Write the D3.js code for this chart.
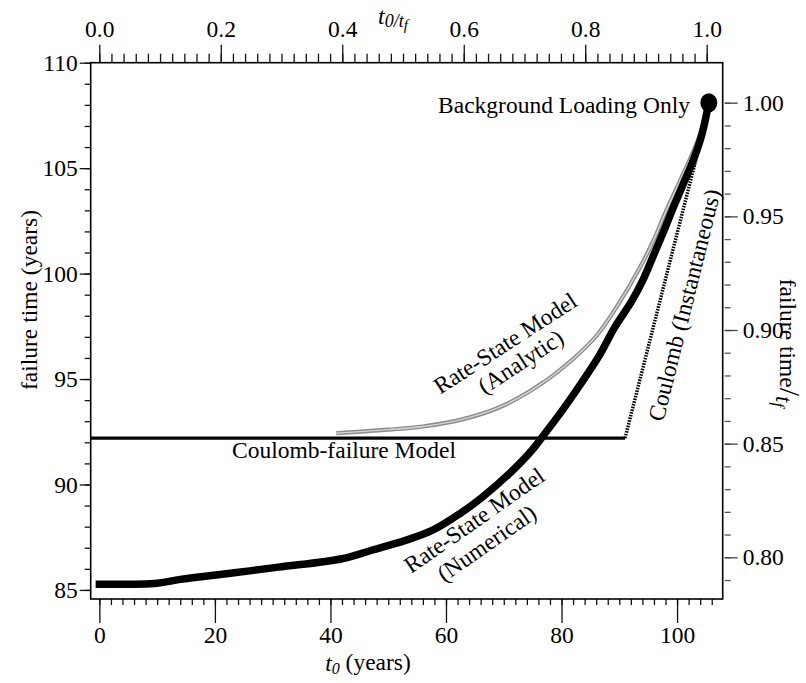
<!DOCTYPE html>
<html>
<head>
<meta charset="utf-8">
<script src="https://cdn.jsdelivr.net/npm/d3@7"></script>
<style>
  body { margin: 0; background: #fff; }
  svg { font-family: "Liberation Serif", "Times New Roman", serif; }
</style>
</head>
<body>
<div id="canvas"></div>
<script>
// values (t0 in years, failure time in years)
const numericalT = [0, 10, 14, 23, 31, 42, 47, 53, 57.6, 62.3, 66.2, 70.9, 74.8, 76.8, 80.1, 83.4, 86.5, 89.2, 92.2, 94.1, 95.9, 97.6, 99.3, 101.0, 102.7, 104.2, 105.5];
const numericalV = [85.27, 85.32, 85.5, 85.8, 86.08, 86.48, 86.87, 87.35, 87.82, 88.6, 89.38, 90.5, 91.6, 92.3, 93.5, 94.8, 96.1, 97.45, 98.72, 99.7, 100.85, 101.95, 103.1, 104.2, 105.3, 106.5, 108.1];

const analyticT = [41, 50, 56, 63, 69.6, 76.1, 82.2, 86.2, 89.5, 93.6, 95.8, 98, 100.5, 103, 105];
const analyticV = [92.43, 92.6, 92.75, 93.1, 93.7, 94.7, 96.0, 97.1, 98.4, 100.3, 101.5, 102.9, 104.4, 105.9, 107.4];

const coulombT = [-1.5, 91];
const coulombV = [92.2, 92.2];

const instantT = [91, 105.3];
const instantV = [92.2, 107.6];

const backgroundT = 105.5;
const backgroundV = 108.1;

const leftTicks = [85, 90, 95, 100, 105, 110];
const bottomTicks = [0, 20, 40, 60, 80, 100];
const topTicks = [0, 0.2, 0.4, 0.6, 0.8, 1.0];
const rightTicks = [0.80, 0.85, 0.90, 0.95, 1.00];

const W = 806, H = 683;
const svg = d3.select("#canvas").append("svg").attr("width", W).attr("height", H);

const pLeft = 90.7, pRight = 722.7, pTop = 62.7, pBottom = 599;

const x = d3.scaleLinear().domain([-1.5, 107.9]).range([pLeft, pRight]);
const y = d3.scaleLinear().domain([84.57, 110]).range([pBottom, pTop]);
const xTop = d3.scaleLinear().domain([0, 1]).range([99.3, 706.7]);
const yRight = d3.scaleLinear().domain([0.8, 1.0]).range([557.3, 102.7]);

const fontSize = 23.5;
const fs = fontSize + "px";

function styleAxis(g) {
    g.select(".domain").remove();
    g.attr("font-family", null).attr("font-size", null);
    g.selectAll("line").attr("stroke", "#111").attr("stroke-width", 1.3);
    g.selectAll("text").attr("fill", "#000").style("font-size", fs);
}

// left axis
svg.append("g").attr("transform", `translate(${pLeft},0)`)
    .call(d3.axisLeft(y).tickValues(d3.range(85, 111, 1)).tickSize(6).tickFormat(""))
    .call(styleAxis);
svg.append("g").attr("transform", `translate(${pLeft},0)`)
    .call(d3.axisLeft(y).tickValues(leftTicks).tickSize(11).tickPadding(2))
    .call(styleAxis);

// bottom axis
svg.append("g").attr("transform", `translate(0,${pBottom})`)
    .call(d3.axisBottom(x).tickValues(d3.range(0, 107, 2)).tickSize(6).tickFormat(""))
    .call(styleAxis);
svg.append("g").attr("transform", `translate(0,${pBottom})`)
    .call(d3.axisBottom(x).tickValues(bottomTicks).tickSize(24).tickPadding(3))
    .call(styleAxis);

// top axis
svg.append("g").attr("transform", `translate(0,${pTop})`)
    .call(d3.axisTop(xTop).tickValues(d3.range(0, 1.001, 0.02)).tickSize(9).tickFormat(""))
    .call(styleAxis);
svg.append("g").attr("transform", `translate(0,${pTop})`)
    .call(d3.axisTop(xTop).tickValues(topTicks).tickSize(18).tickPadding(8).tickFormat(d3.format(".1f")))
    .call(styleAxis);

// right axis
svg.append("g").attr("transform", `translate(${pRight + 2},0)`)
    .call(d3.axisRight(yRight).tickValues(d3.range(0.79, 1.0001, 0.01)).tickSize(6).tickFormat(""))
    .call(styleAxis)
    .selectAll("line").attr("stroke", "#555");
svg.append("g").attr("transform", `translate(${pRight + 2},0)`)
    .call(d3.axisRight(yRight).tickValues(rightTicks).tickSize(13).tickPadding(5).tickFormat(d3.format(".2f")))
    .call(styleAxis)
    .selectAll("line").attr("stroke", "#444");

// frame
svg.append("rect")
    .attr("x", pLeft).attr("y", pTop)
    .attr("width", pRight - pLeft).attr("height", pBottom - pTop)
    .attr("fill", "none").attr("stroke", "#000").attr("stroke-width", 1.6);

const zip = (ts, vs) => ts.map((t, i) => [t, vs[i]]);
const line = d3.line().x(d => x(d[0])).y(d => y(d[1]));
const smooth = d3.line().x(d => x(d[0])).y(d => y(d[1])).curve(d3.curveCatmullRom);

// Coulomb-failure model
svg.append("path")
    .attr("d", line(zip(coulombT, coulombV)))
    .attr("fill", "none").attr("stroke", "#000").attr("stroke-width", 3.2);

// Coulomb instantaneous (hatched)
svg.append("path")
    .attr("d", line(zip(instantT, instantV)))
    .attr("fill", "none").attr("stroke", "#000").attr("stroke-width", 3.5)
    .attr("stroke-dasharray", "1.6,1.2");

// rate-state analytic (grey double line)
svg.append("path")
    .attr("d", smooth(zip(analyticT, analyticV)))
    .attr("fill", "none").attr("stroke", "#8c8c8c").attr("stroke-width", 4.2);
svg.append("path")
    .attr("d", smooth(zip(analyticT, analyticV)))
    .attr("fill", "none").attr("stroke", "#d6d6d6").attr("stroke-width", 1.4);

// rate-state numerical (thick)
svg.append("path")
    .attr("d", smooth(zip(numericalT, numericalV)))
    .attr("fill", "none").attr("stroke", "#000").attr("stroke-width", 7.5)
    .attr("stroke-linecap", "square").attr("stroke-linejoin", "round");

// background loading point
svg.append("ellipse")
    .attr("cx", x(backgroundT)).attr("cy", y(backgroundV))
    .attr("rx", 8.5).attr("ry", 9.5).attr("fill", "#000");

// labels
svg.append("text").attr("x", 690).attr("y", 113).attr("text-anchor", "end")
    .style("font-size", fs).text("Background Loading Only");

svg.append("text").attr("x", 344).attr("y", 458).attr("text-anchor", "middle")
    .style("font-size", fs).text("Coulomb-failure Model");

function twoLine(cx, cy, angle, l1, l2, dx2, dy2) {
    const g = svg.append("g").attr("transform", `translate(${cx},${cy}) rotate(${angle})`);
    g.append("text").attr("text-anchor", "middle").attr("dy", "0.35em").style("font-size", fs).text(l1);
    if (l2) g.append("text").attr("x", dx2).attr("y", dy2).attr("text-anchor", "middle").attr("dy", "0.35em").style("font-size", fs).text(l2);
}
twoLine(505, 343, -33, "Rate-State Model", "(Analytic)", 3, 24);
twoLine(474, 520, -35, "Rate-State Model", "(Numerical)", -3, 26);
twoLine(684, 305, -76, "Coulomb (Instantaneous)");

// axis titles
svg.append("text").attr("transform", "translate(29,300) rotate(-90)")
    .attr("text-anchor", "middle").attr("dy", "0.35em").style("font-size", fs)
    .text("failure time (years)");

const rt = svg.append("text").attr("transform", "translate(788,343) rotate(90)")
    .attr("text-anchor", "middle").attr("dy", "0.35em").style("font-size", fs);
rt.append("tspan").text("failure time");
rt.append("tspan").style("font-size", "30px").text("/");
rt.append("tspan").style("font-style", "italic").style("font-size", "23px").attr("dy", "0.15em").text("t");
rt.append("tspan").style("font-style", "italic").style("font-size", "17px").attr("dy", "0.2em").text("f");

const bt = svg.append("text").attr("x", 368).attr("y", 671).attr("text-anchor", "middle").style("font-size", fs);
bt.append("tspan").style("font-style", "italic").text("t");
bt.append("tspan").style("font-style", "italic").style("font-size", "16px").attr("dy", "0.2em").text("0");
bt.append("tspan").attr("dy", "-0.2em").text(" (years)");

const tt = svg.append("text").attr("x", 393).attr("y", 24).attr("text-anchor", "middle").style("font-size", "24px");
tt.append("tspan").style("font-style", "italic").text("t");
tt.append("tspan").style("font-style", "italic").style("font-size", "18px").attr("dy", "0.15em").text("0/t");
tt.append("tspan").style("font-style", "italic").style("font-size", "15px").attr("dy", "0.2em").text("f");
</script>
</body>
</html>
